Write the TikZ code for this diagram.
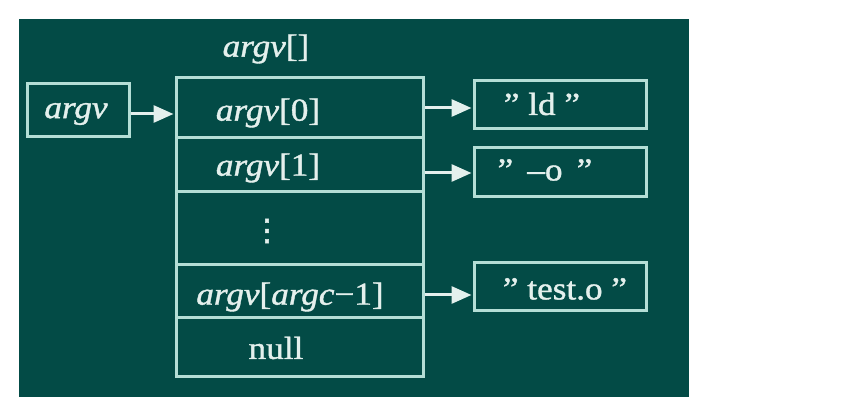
\documentclass[tikz,border=0pt]{standalone}
\usepackage{fontspec}
\setmainfont{Liberation Serif}[FakeStretch=1.1,FakeBold=1.2]
\newfontfamily\dvfont{DejaVu Sans}[FakeBold=1.5]
\usetikzlibrary{arrows.meta}
\definecolor{bgc}{RGB}{3,75,70}
\definecolor{linec}{RGB}{180,222,214}
\definecolor{txtc}{RGB}{228,240,237}
\tikzset{
  cell/.style={draw=linec, line width=3pt, inner sep=0pt, minimum width=#1},
  lbl/.style={text=txtc, inner sep=0pt, font=\fontsize{32}{34}\selectfont},
  arr/.style={draw=txtc, line width=3pt, -{Triangle[length=20pt,width=17pt]}, shorten >=1pt},
}
\begin{document}
\begin{tikzpicture}[x=1pt,y=-1pt]
\useasboundingbox[fill=white] (0,0) rectangle (841,403);
\fill[bgc] (19,19) rectangle (689,397);
% argv pointer
\node[cell=102pt, minimum height=53pt] (argv) at (78,110.5) {};
\node[lbl] (argvt) at (76,114) {\itshape argv};
% array
\node[lbl] (title) at (266,49) {{\itshape argv}[]};
\node[cell=247pt, minimum height=60pt] (r0) at (299.5,108) {};
\node[cell=247pt, minimum height=54pt] (r1) at (299.5,165) {};
\node[cell=247pt, minimum height=73pt] (r2) at (299.5,228.5) {};
\node[cell=247pt, minimum height=53pt] (r3) at (299.5,291.5) {};
\node[cell=247pt, minimum height=59pt] (r4) at (299.5,347.5) {};
\node[lbl] (t0) at (268,113) {{\itshape argv}[0]};
\node[lbl] (t1) at (268,168) {{\itshape argv}[1]};
\node[lbl, font=\dvfont\fontsize{30}{30}\selectfont] (t2) at (267,231) {⋮};
\node[lbl] (t3) at (290,297) {{\itshape argv}[{\itshape argc}−1]};
\node[lbl] (t4) at (276,348) {null};
% strings
\node[cell=172pt, minimum height=48pt] (s0) at (560,105) {};
\node[cell=172pt, minimum height=49pt] (s1) at (560,172.5) {};
\node[cell=172pt, minimum height=48pt] (s2) at (560,287) {};
\node[lbl] (st0) at (542,104) {” ld ”};
\node[lbl] (st1) at (545,170) {”\, –o\, ”};
\node[lbl] (st2) at (565,289) {” test.o ”};
% arrows
\draw[arr] (argv.east |- 0,114) coordinate (a0) -- (a0 -| r0.west);
\draw[arr] (r0.east |- 0,108) coordinate (a1) -- (a1 -| s0.west);
\draw[arr] (r1.east |- 0,173) coordinate (a2) -- (a2 -| s1.west);
\draw[arr] (r3.east |- 0,295) coordinate (a3) -- (a3 -| s2.west);
\end{tikzpicture}
\end{document}
